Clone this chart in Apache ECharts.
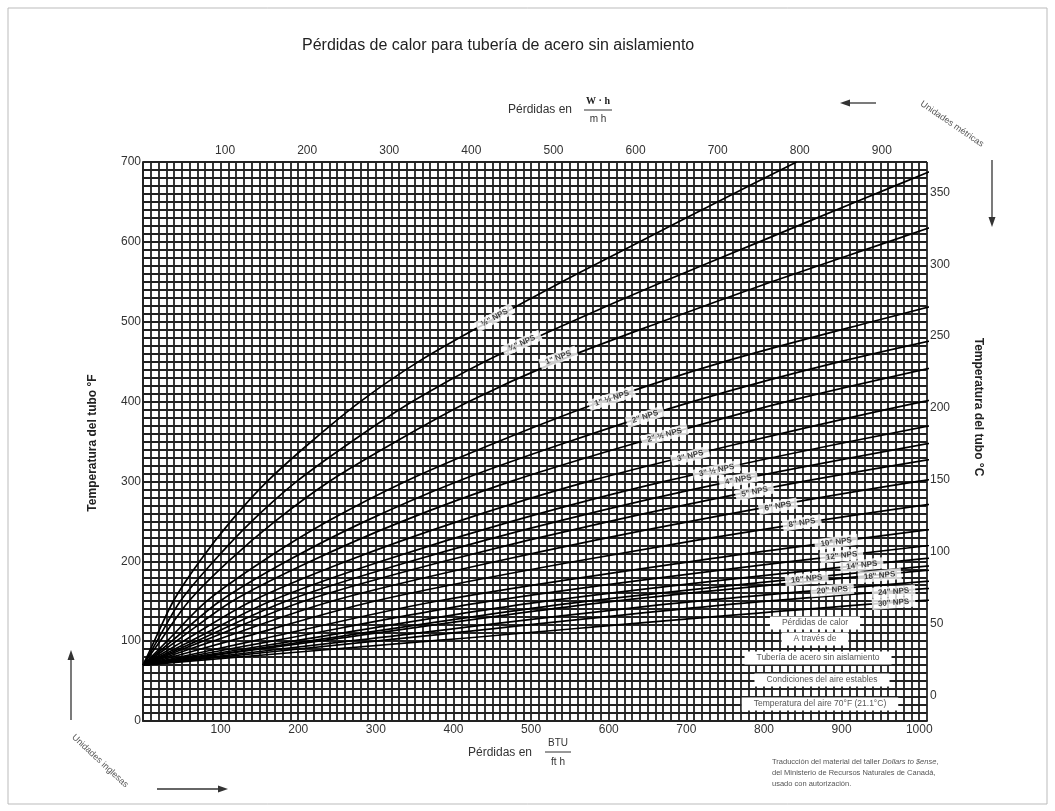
<!DOCTYPE html>
<html><head><meta charset="utf-8">
<script src="https://cdn.jsdelivr.net/npm/echarts@6/dist/echarts.min.js"></script>
<style>html,body{margin:0;padding:0;background:#fff}#c{width:1055px;height:811px}</style>
</head><body><div id="c"></div>
<script>
// ---- data ----
const tempsF = [70,100,150,200,250,300,350,400,450,500,550,600,650,700];
// heat loss (BTU/ft h) of each pipe at the temperatures above
const loss_05  = [0,14.5,39,73,113,160,217,280,355,445,540,640,740,842];
const loss_075 = [0,18,48,91,140,198,269,347,440,552,670,794,918,1044];
const loss_1   = [0,22,59,110,170,240,326,420,533,668,810,960,1110];
const loss_15  = [0,31,82,154,238,338,458,591,749,939,1139];
const loss_2   = [0,37,99,185,286,405,549,708,898,1126];
const loss_25  = [0,43,115,216,334,474,642,829,1051];
const loss_3   = [0,52,140,262,406,574,779,1005,1274];
const loss_35  = [0,61,164,307,475,672,911,1176];
const loss_4   = [0,69,184,345,534,757,1026];
const loss_5   = [0,77,207,388,601,851,1154];
const loss_6   = [0,90,243,456,705,998,1354];
const loss_8   = [0,111,298,558,864,1224];
const loss_10  = [0,141,378,708,1096];
const loss_12  = [0,166,447,836,1294];
const loss_14  = [0,193,519,971,1503];
const loss_16  = [0,213,573,1073];
const loss_18  = [0,226,608,1139];
const loss_20  = [0,265,714,1336];
const loss_24  = [0,299,803,1504];
const loss_30  = [0,368,991,1854];
const pipeNames = ['½"','¾"','1"','1" ½','2"','2" ½','3"','3" ½','4"','5"','6"','8"','10"','12"','14"','16"','18"','20"','24"','30"'];
const pipeLosses = [loss_05,loss_075,loss_1,loss_15,loss_2,loss_25,loss_3,loss_35,loss_4,loss_5,loss_6,loss_8,loss_10,loss_12,loss_14,loss_16,loss_18,loss_20,loss_24,loss_30];
// label anchor points on the curves
const labelLoss  = [453,488,535,604,647,672,705,739,767,788,818,849,893,900,926,855,949,888,967,967];
const labelTempF = [505,473,455,404,381,358,332,314,302,287,269,248,224,207,195,178,182,164,162,148];
// tick labels
const bottomTicks = [100,200,300,400,500,600,700,800,900,1000];
const topTicks = [100,200,300,400,500,600,700,800,900];
const leftTicks = [0,100,200,300,400,500,600,700];
const rightTicks = [0,50,100,150,200,250,300,350];

const FONT = 'Liberation Sans, Arial, sans-serif';
const chart = echarts.init(document.getElementById('c'), null, {renderer:'canvas'});
const gridLine = {show:true, lineStyle:{color:'#222', width:1.8}};

const series = pipeLosses.map((arr,i)=>({
  type:'line', name:pipeNames[i], xAxisIndex:0, yAxisIndex:0,
  data: arr.map((q,j)=>[q, tempsF[j]]),
  smooth:0.3, showSymbol:false, symbol:'none', clip:true,
  lineStyle:{color:'#000', width:1.7}, z:3, silent:true
}));
series.push({
  type:'scatter', id:'labels', xAxisIndex:0, yAxisIndex:0, symbolSize:0, z:5, silent:true,
  data: labelLoss.map((q,i)=>({name:pipeNames[i], value:[q,labelTempF[i]]})),
  label:{show:true, position:'inside', formatter:p=>p.name+' NPS', fontFamily:FONT, fontSize:8, fontWeight:'bold',
    color:'#111', backgroundColor:'#fff', padding:[2,6,1,6]}
});

const txt = (x,y,t,o)=>Object.assign({type:'text', x, y, z:10, style:Object.assign({text:t, font:'10px '+FONT, fill:'#333', textVerticalAlign:'middle'}, o||{})});
const boxTxt = (cx,cy,t)=>({type:'text', x:cx, y:cy, z:10, style:{text:t, font:'8.5px '+FONT, fill:'#555', textAlign:'center', textVerticalAlign:'middle', backgroundColor:'#fff', padding:[2,12]}});
const creditRich = {n:{fontFamily:FONT, fontSize:7.5, fill:'#555', color:'#555'}, i:{fontFamily:FONT, fontSize:7.5, fontStyle:'italic', fill:'#555', color:'#555'}};

const graphic = [
  {type:'rect', shape:{x:8,y:8,width:1039,height:796}, style:{fill:'none', stroke:'#bbb', lineWidth:1}, z:0},
  txt(302,46,'Pérdidas de calor para tubería de acero sin aislamiento',{font:'16px '+FONT, fill:'#222'}),
  // top axis name
  txt(508,110,'Pérdidas en',{font:'12px '+FONT}),
  txt(598,101,'W · h',{font:'bold 10px Liberation Serif, serif', textAlign:'center', fill:'#222'}),
  {type:'line', shape:{x1:584,y1:110,x2:612,y2:110}, style:{stroke:'#333', lineWidth:1}, z:10},
  txt(598,119,'m h',{textAlign:'center'}),
  // bottom axis name
  txt(468,753,'Pérdidas en',{font:'12px '+FONT}),
  txt(558,743,'BTU',{textAlign:'center'}),
  {type:'line', shape:{x1:545,y1:752,x2:571,y2:752}, style:{stroke:'#333', lineWidth:1}, z:10},
  txt(558,762,'ft h',{textAlign:'center'}),
  // vertical axis names
  {type:'text', x:93, y:443, rotation:Math.PI/2, z:10, style:{text:'Temperatura del tubo °F', font:'bold 12px '+FONT, fill:'#222', textAlign:'center', textVerticalAlign:'middle'}},
  {type:'text', x:978, y:407, rotation:-Math.PI/2, z:10, style:{text:'Temperatura del tubo °C', font:'bold 12px '+FONT, fill:'#222', textAlign:'center', textVerticalAlign:'middle'}},
  // arrows
  {type:'line', shape:{x1:876,y1:103,x2:846,y2:103}, style:{stroke:'#333', lineWidth:1.3}},
  {type:'polygon', shape:{points:[[840,103],[850,99.5],[850,106.5]]}, style:{fill:'#333'}},
  {type:'line', shape:{x1:992,y1:160,x2:992,y2:220}, style:{stroke:'#333', lineWidth:1.3}},
  {type:'polygon', shape:{points:[[992,227],[988.5,217],[995.5,217]]}, style:{fill:'#333'}},
  {type:'line', shape:{x1:71,y1:720,x2:71,y2:658}, style:{stroke:'#333', lineWidth:1.3}},
  {type:'polygon', shape:{points:[[71,650],[67.5,660],[74.5,660]]}, style:{fill:'#333'}},
  {type:'line', shape:{x1:157,y1:789,x2:220,y2:789}, style:{stroke:'#333', lineWidth:1.3}},
  {type:'polygon', shape:{points:[[228,789],[218,785.5],[218,792.5]]}, style:{fill:'#333'}},
  {type:'text', x:952, y:124, rotation:-0.6, z:10, style:{text:'Unidades métricas', font:'9px '+FONT, fill:'#555', textAlign:'center', textVerticalAlign:'middle'}},
  {type:'text', x:100, y:761, rotation:-0.75, z:10, style:{text:'Unidades inglesas', font:'9px '+FONT, fill:'#555', textAlign:'center', textVerticalAlign:'middle'}},
  // info box inside plot
  boxTxt(815,623,'Pérdidas de calor'),
  boxTxt(815,639,'A través de'),
  boxTxt(818,658,'Tubería de acero sin aislamiento'),
  boxTxt(822,680,'Condiciones del aire estables'),
  boxTxt(820,704,'Temperatura del aire 70°F (21.1°C)'),
  // credit
  {type:'text', x:772, y:762, z:10, style:{text:'{n|Traducción del material del taller }{i|Dollars to $ense}{n|,}', rich:creditRich, textVerticalAlign:'middle'}},
  txt(772,773,'del Ministerio de Recursos Naturales de Canadá,',{font:'7.5px '+FONT, fill:'#555'}),
  txt(772,784,'usado con autorización.',{font:'7.5px '+FONT, fill:'#555'})
];

const axisLbl = {fontFamily:FONT, fontSize:12, color:'#333'};
const option = {
  animation:false,
  backgroundColor:'#fff',
  grid:{left:143, top:162, width:784, height:559, containLabel:false},
  xAxis:[
    {type:'value', position:'bottom', min:0, max:1010, interval:10,
     axisLine:{show:true, lineStyle:{color:'#222', width:1.8}}, axisTick:{show:false},
     splitLine:gridLine,
     axisLabel:Object.assign({margin:3, formatter:v=>bottomTicks.indexOf(v)>=0?String(v):''}, axisLbl)},
    {type:'value', position:'top', min:0, max:955, interval:100,
     axisLine:{show:false}, axisTick:{show:false}, splitLine:{show:false},
     axisLabel:Object.assign({margin:5, formatter:v=>topTicks.indexOf(v)>=0?String(v):''}, axisLbl)}
  ],
  yAxis:[
    {type:'value', position:'left', min:0, max:700, interval:10,
     axisLine:{show:true, lineStyle:{color:'#222', width:1.8}}, axisTick:{show:false},
     splitLine:gridLine,
     axisLabel:Object.assign({margin:2, formatter:v=>leftTicks.indexOf(v)>=0?String(v):''}, axisLbl)},
    {type:'value', position:'right', min:(0-32)/1.8, max:(700-32)/1.8,
     axisLine:{show:false}, axisTick:{show:false}, splitLine:{show:false},
     axisLabel:Object.assign({margin:3, customValues:rightTicks, formatter:v=>String(Math.round(v))}, axisLbl)}
  ],
  graphic:graphic,
  series:series
};
chart.setOption(option);

// rotate curve labels along the local slope of their curve
const rotations = labelLoss.map((q,i)=>{
  const arr = pipeLosses[i];
  let j = 0;
  while (j < arr.length-2 && arr[j+1] < q) j++;
  const p1 = chart.convertToPixel({xAxisIndex:0,yAxisIndex:0},[arr[j],tempsF[j]]);
  const p2 = chart.convertToPixel({xAxisIndex:0,yAxisIndex:0},[arr[j+1],tempsF[j+1]]);
  return -Math.atan2(p2[1]-p1[1], p2[0]-p1[0])*180/Math.PI;
});
chart.setOption({series:[{id:'labels', data: labelLoss.map((q,i)=>({name:pipeNames[i], value:[q,labelTempF[i]], label:{rotate:rotations[i]}}))}]});
</script></body></html>
